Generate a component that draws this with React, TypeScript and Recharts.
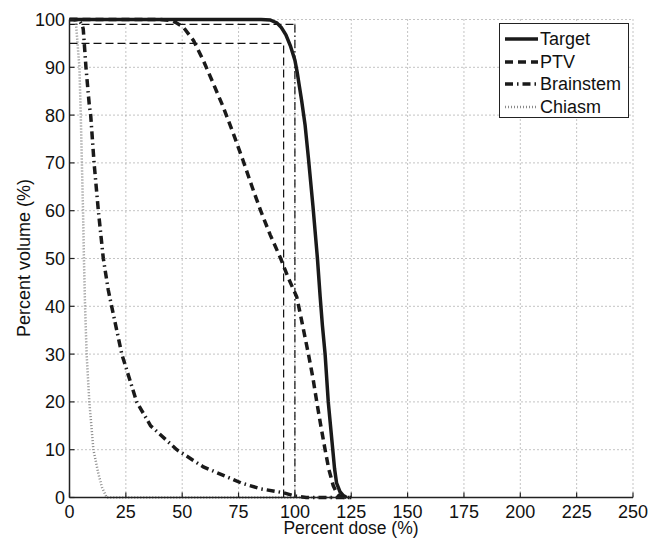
import React from 'react'
import {
    LineChart,
    Line,
    XAxis,
    YAxis,
    CartesianGrid,
    ReferenceLine,
} from 'recharts'

const doseTicks = [0, 25, 50, 75, 100, 125, 150, 175, 200, 225, 250]
const volumeTicks = [0, 10, 20, 30, 40, 50, 60, 70, 80, 90, 100]

const targetDose = [0, 85, 89, 92, 94, 96, 98, 100, 101, 102, 103, 104.5, 106, 108, 110, 111.2, 112.2, 113.4, 114.8, 116.8, 117.6, 118.5, 120, 121.5, 123]
const targetVolume = [100, 100, 99.9, 99.3, 98.3, 96.8, 94.5, 91.5, 89, 86, 83, 78, 71, 61, 50, 42, 36, 30, 20, 10, 6, 3, 1.2, 0.4, 0]

const ptvDose = [0, 40, 45, 47, 50.5, 55, 59.4, 63.8, 68.2, 72.7, 77, 81, 84.8, 89, 93.7, 97, 100.8, 103, 106, 108, 109.7, 111.5, 113.4, 115, 117, 118.5, 120, 122, 125]
const ptvVolume = [100, 100, 99.8, 99.4, 98.4, 95.6, 91.4, 86.6, 81.7, 76.1, 70.5, 65, 60, 55, 50, 46, 42, 37, 30, 25, 20, 15, 10, 6, 2.5, 1, 0.2, 0, 0]

const brainstemDose = [0, 4, 5.5, 6.1, 7.3, 8.8, 9.4, 10.9, 12.8, 15, 17.2, 18.7, 23.2, 29.8, 36, 47.6, 59.4, 76.4, 85, 94.9, 100, 105, 125]
const brainstemVolume = [100, 100, 99, 98, 90, 82, 80, 70, 60, 50, 43.4, 40, 30, 20, 15, 10, 6.4, 3, 1.8, 1, 0.3, 0, 0]

const chiasmDose = [0, 2, 2.9, 4.4, 5, 5.5, 6, 6.4, 6.9, 7.6, 8.8, 10.6, 12.8, 14.5, 16.5, 125]
const chiasmVolume = [100, 100, 99, 90, 80, 70, 60, 50, 40, 30, 20, 10, 5, 2, 0, 0]

const zip = (d: number[], v: number[]) => d.map((x, i) => ({ dose: x, volume: v[i] }))

const SERIES = [
    { name: 'Target', data: zip(targetDose, targetVolume), stroke: '#1a1a1a', width: 3.5, dash: undefined },
    { name: 'PTV', data: zip(ptvDose, ptvVolume), stroke: '#1a1a1a', width: 3.5, dash: '8 5' },
    { name: 'Brainstem', data: zip(brainstemDose, brainstemVolume), stroke: '#1a1a1a', width: 3.5, dash: '8 4 1.5 4' },
    { name: 'Chiasm', data: zip(chiasmDose, chiasmVolume), stroke: '#8a8a8a', width: 2.5, dash: '1 2' },
]

const FONT = '"Liberation Sans", Arial, Helvetica, sans-serif'

const XTick = (props: any) => {
    const { x, y, payload } = props
    return (
        <g>
            <line x1={x} y1={y} x2={x} y2={y - 5} stroke="#222" strokeWidth={1.2} />
            <text x={x} y={y + 20.5} textAnchor="middle" fontSize={18} fill="#111" fontFamily={FONT}>
                {payload.value}
            </text>
        </g>
    )
}

const YTick = (props: any) => {
    const { x, y, payload } = props
    return (
        <g>
            <line x1={x} y1={y} x2={x + 5} y2={y} stroke="#222" strokeWidth={1.2} />
            <text x={x - 4.5} y={y + 6.5} textAnchor="end" fontSize={18} fill="#111" fontFamily={FONT}>
                {payload.value}
            </text>
        </g>
    )
}

export default function App() {
    return (
        <div style={{ position: 'absolute', left: 0, top: 0, width: 651, height: 538, background: '#fff', fontFamily: FONT }}>
            <LineChart width={651} height={538} margin={{ top: 19.5, right: 18, bottom: 0, left: 9.5 }}>
                <CartesianGrid stroke="#888" strokeDasharray="1 3" />
                <XAxis
                    dataKey="dose"
                    type="number"
                    domain={[0, 250]}
                    ticks={doseTicks}
                    height={40.5}
                    tickLine={false}
                    tickSize={0}
                    tickMargin={0}
                    tick={<XTick />}
                    axisLine={{ stroke: '#222', strokeWidth: 1.5 }}
                    label={() => (
                        <text x={351} y={534} textAnchor="middle" fontSize={17.5} fill="#111" fontFamily={FONT}>
                            Percent dose (%)
                        </text>
                    )}
                />
                <YAxis
                    dataKey="volume"
                    type="number"
                    domain={[0, 100]}
                    ticks={volumeTicks}
                    width={60}
                    tickLine={false}
                    tickSize={0}
                    tickMargin={0}
                    tick={<YTick />}
                    axisLine={{ stroke: '#222', strokeWidth: 1.5 }}
                    label={() => (
                        <text x={30} y={258} transform="rotate(-90, 30, 258)" textAnchor="middle" fontSize={18} fill="#111" fontFamily={FONT}>
                            Percent volume (%)
                        </text>
                    )}
                />
                <ReferenceLine segment={[{ x: 0, y: 99 }, { x: 100, y: 99 }]} stroke="#111" strokeWidth={1.2} strokeDasharray="8 4" />
                <ReferenceLine segment={[{ x: 0, y: 95 }, { x: 95, y: 95 }]} stroke="#111" strokeWidth={1.2} strokeDasharray="8 4" />
                <ReferenceLine segment={[{ x: 95, y: 0 }, { x: 95, y: 95 }]} stroke="#111" strokeWidth={1.2} strokeDasharray="8 4" />
                <ReferenceLine segment={[{ x: 100, y: 0 }, { x: 100, y: 99 }]} stroke="#111" strokeWidth={1.2} strokeDasharray="8 3 1.5 3" />
                {SERIES.slice().reverse().map((s) => (
                    <Line
                        key={s.name}
                        data={s.data}
                        dataKey="volume"
                        name={s.name}
                        type="linear"
                        stroke={s.stroke}
                        strokeWidth={s.width}
                        strokeDasharray={s.dash}
                        dot={false}
                        activeDot={false}
                        isAnimationActive={false}
                    />
                ))}
            </LineChart>
            <div
                style={{
                    position: 'absolute',
                    left: 499,
                    top: 23,
                    width: 130,
                    height: 95,
                    border: '1.5px solid #222',
                    boxSizing: 'border-box',
                    background: '#fff',
                }}
            >
                {SERIES.map((s, i) => (
                    <div
                        key={s.name}
                        style={{
                            position: 'absolute',
                            left: 5,
                            top: 15 + i * 22.7 - 12,
                            height: 24,
                            display: 'flex',
                            alignItems: 'center',
                            whiteSpace: 'nowrap',
                        }}
                    >
                        <svg width={34} height={6} style={{ display: 'block' }}>
                            <line x1={0} y1={3} x2={33} y2={3} stroke={s.stroke} strokeWidth={s.width} strokeDasharray={s.dash} />
                        </svg>
                        <span style={{ fontSize: 18, color: '#111', marginLeft: 1, lineHeight: '24px' }}>{s.name}</span>
                    </div>
                ))}
            </div>
        </div>
    )
}
